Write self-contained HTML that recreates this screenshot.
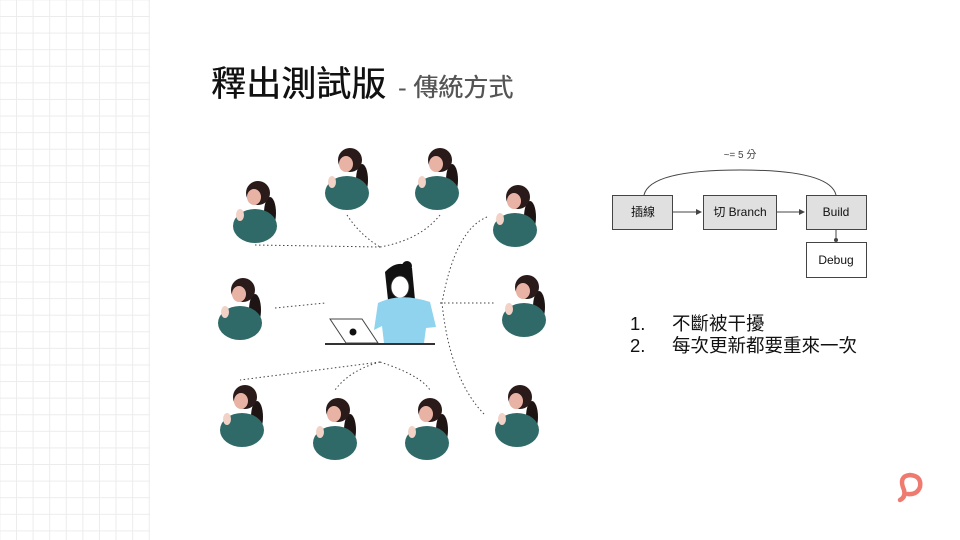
<!DOCTYPE html>
<html><head><meta charset="utf-8"><style>
body{margin:0;width:960px;height:540px;background:#fff;overflow:hidden;position:relative;font-family:"Liberation Sans","Noto Sans CJK TC",sans-serif}
.grid{position:absolute;left:0;top:0;width:150px;height:540px;background-image:linear-gradient(to right,#ececec 1px,transparent 1px),linear-gradient(to bottom,#ececec 1px,transparent 1px);background-size:16.6px 16.6px;background-position:16px 16px}
.t{position:absolute;left:211px;top:56px;font-size:35px;color:#111;white-space:nowrap;font-weight:normal;text-shadow:0.5px 0 0 #111}
.t span{font-size:25px;color:#555;margin-left:12px;font-weight:normal;text-shadow:0.4px 0 0 #555}
.list{position:absolute;left:630px;top:313px;font-size:18.5px;color:#111;line-height:22px}
.list div span{display:inline-block;width:42px}
</style></head><body>
<div class="grid"></div>
<div class="t">釋出測試版<span>- 傳統方式</span></div>
<svg width="960" height="540" style="position:absolute;left:0;top:0">
<defs>
<g id="p">
<ellipse cx="12" cy="20" rx="6" ry="16" fill="#1e1414"/>
<ellipse cx="-3" cy="33" rx="22" ry="17" fill="#2f6a68"/>
<circle cx="0" cy="0" r="12" fill="#2a1a1a"/>
<ellipse cx="-4" cy="4" rx="7" ry="8" fill="#e8b3a4"/>
<ellipse cx="-18" cy="22" rx="4" ry="6" fill="#f2d2c6"/>
</g>
</defs>
<use href="#p" x="258" y="193"/><use href="#p" x="350" y="160"/><use href="#p" x="440" y="160"/>
<use href="#p" x="518" y="197"/><use href="#p" x="243" y="290"/><use href="#p" x="527" y="287"/>
<use href="#p" x="245" y="397"/><use href="#p" x="338" y="410"/><use href="#p" x="430" y="410"/>
<use href="#p" x="520" y="397"/>
<g fill="none" stroke="#444" stroke-width="1" stroke-dasharray="1.5,2.5">
<path d="M255 245 L380 247"/><path d="M347 215 Q360 235 380 247"/><path d="M440 215 Q420 240 380 247"/>
<path d="M275 308 L325 303"/>
<path d="M487 217 Q455 230 442 303 Q450 380 485 415"/><path d="M440 303 L495 303"/>
<path d="M380 362 L240 380"/><path d="M380 362 Q350 370 335 390"/><path d="M380 362 Q420 375 430 390"/>
</g>
<path d="M385 272 Q398 258 412 268 L415 300 L388 300 Z" fill="#111"/>
<circle cx="407" cy="266" r="5" fill="#111"/>
<ellipse cx="400" cy="287" rx="9" ry="11" fill="#fff" stroke="#333" stroke-width="0.8"/>
<path d="M378 303 Q400 292 430 302 L436 327 L426 328 L424 343 L384 343 L382 326 L374 330 Z" fill="#8fd3ef"/>
<path d="M330 319 L362 319 L378 343 L346 343 Z" fill="#fff" stroke="#444" stroke-width="1"/>
<circle cx="353" cy="332" r="3.5" fill="#111"/>
<line x1="325" y1="344" x2="435" y2="344" stroke="#333" stroke-width="2"/>
<path d="M644 195 Q650 170 740 170 Q830 170 836 195" fill="none" stroke="#444"/>
<text x="740" y="158" font-size="10" fill="#444" text-anchor="middle">~= 5 分</text>
<g stroke="#444" stroke-width="1">
<rect x="612.5" y="195.5" width="60" height="34" fill="#e0e0e0"/>
<rect x="703.5" y="195.5" width="73" height="34" fill="#e0e0e0"/>
<rect x="806.5" y="195.5" width="60" height="34" fill="#e0e0e0"/>
<rect x="806.5" y="242.5" width="60" height="35" fill="#fff"/>
<line x1="672" y1="212" x2="699" y2="212"/><line x1="776" y1="212" x2="802" y2="212"/>
<line x1="836" y1="230" x2="836" y2="240"/>
</g>
<g fill="#444"><path d="M702 212 L696 209 L696 215Z"/><path d="M805 212 L799 209 L799 215Z"/><circle cx="836" cy="240" r="2"/></g>
<g font-size="12" fill="#111" text-anchor="middle">
<text x="643" y="216">插線</text><text x="740" y="216">切 Branch</text>
<text x="836" y="216">Build</text><text x="836" y="264">Debug</text></g>
<path d="M904 490 Q898 476 910 475 Q922 476 920 487 Q917 495 908 494 M904 490 Q906 497 900 500" fill="none" stroke="#ee7a70" stroke-width="4.5" stroke-linecap="round"/>
</svg>
<div class="list"><div><span>1.</span>不斷被干擾</div><div><span>2.</span>每次更新都要重來一次</div></div>
</body></html>
